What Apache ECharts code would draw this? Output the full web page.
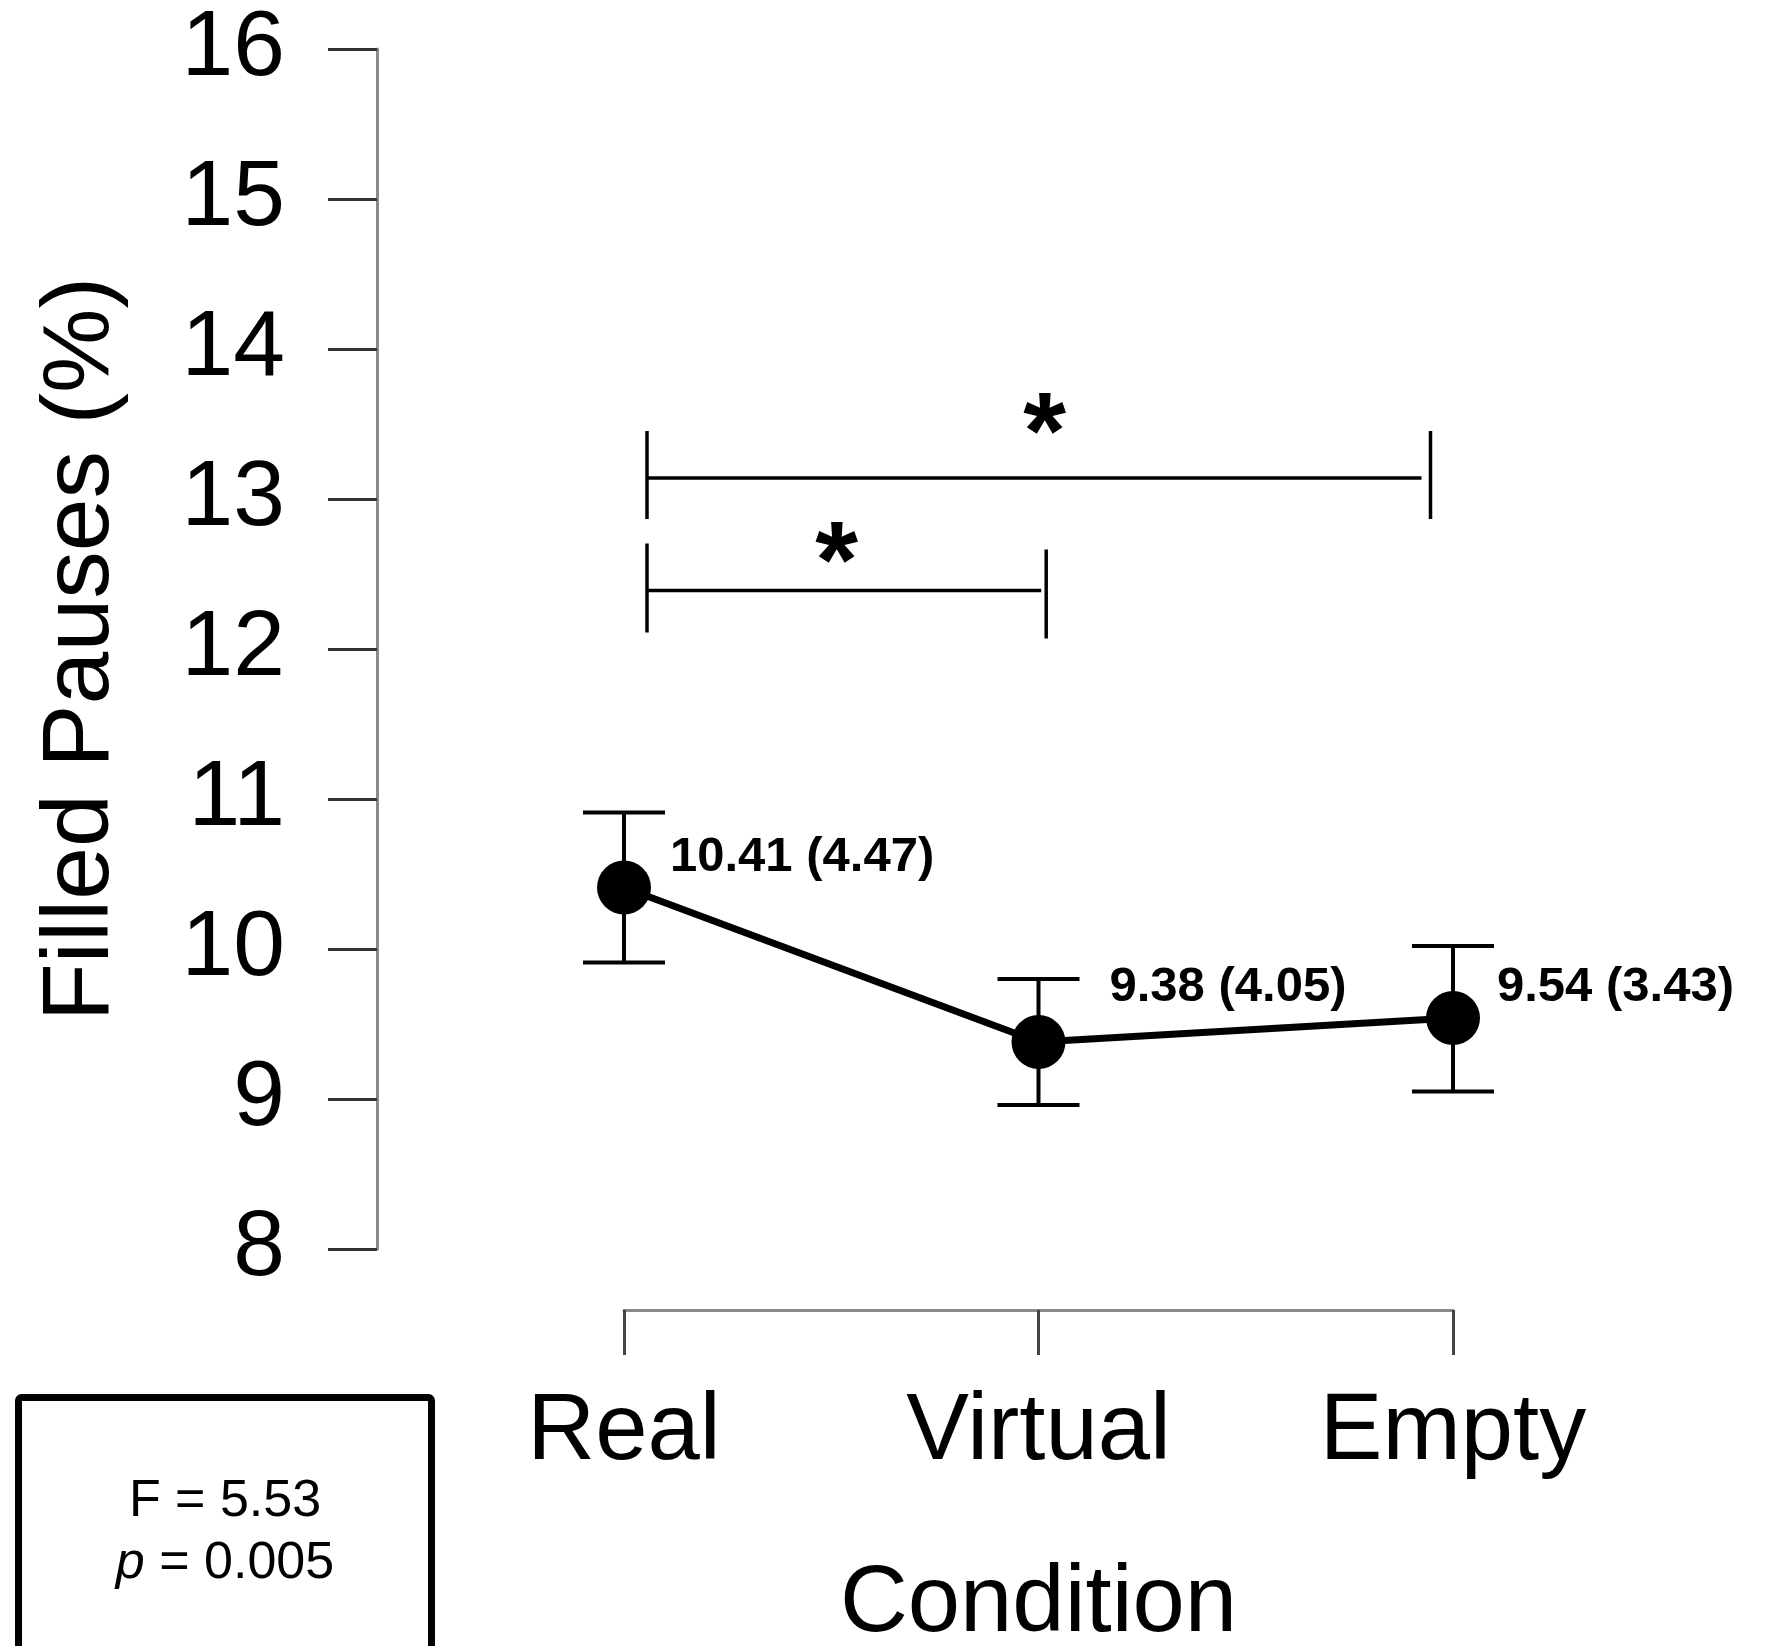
<!DOCTYPE html>
<html lang="en" style="height: 100%">
<head>
<meta charset="utf-8">
<title>Filled Pauses by Condition</title>
</head>
<body style="height: 100%; margin: 0; background: #fff">
<div id="container" style="width: 1775px; height: 1646px"></div>

<script type="text/javascript" src="https://cdn.jsdelivr.net/npm/echarts@6/dist/echarts.min.js"></script>

<script type="text/javascript">

// ---- data ----
var categories = ['Real', 'Virtual', 'Empty'];
var means = [10.41, 9.38, 9.54];
var sds = [4.47, 4.05, 3.43];
var errLow = [9.91, 8.96, 9.05];
var errHigh = [10.91, 9.80, 10.02];
var yMin = 8, yMax = 16, yStep = 1;
var comparisons = [['Real', 'Empty'], ['Real', 'Virtual']];
var compLevels = [13.14, 12.39];
var statF = '5.53';
var statP = '0.005';

// label placement next to each point (px: right of marker, up/down)
var labelShift = [[19, -30], [44, -55], [17, -31]];

var font = "'Liberation Sans', Arial, sans-serif";
var boldFont = "'Liberation Sans Narrow', 'Liberation Sans', sans-serif";

var dom = document.getElementById('container');
var myChart = echarts.init(dom, null, { renderer: 'canvas' });

var option = {
    animation: false,
    backgroundColor: '#fff',
    grid: { left: 624, right: 322, top: 49, bottom: 397, outerBoundsMode: 'none', containLabel: false },
    xAxis: {
        type: 'category',
        data: categories,
        boundaryGap: false,
        offset: 61,
        axisLine: { lineStyle: { color: '#8a8a8a', width: 3 } },
        axisTick: { length: 45, lineStyle: { color: '#444', width: 3 } },
        axisLabel: { margin: 76, fontSize: 94, fontFamily: font, color: '#000' },
        name: 'Condition',
        nameLocation: 'middle',
        nameGap: 248,
        nameTextStyle: { fontSize: 94, fontFamily: font, color: '#000' },
        splitLine: { show: false }
    },
    yAxis: {
        type: 'value',
        min: yMin,
        max: yMax,
        interval: yStep,
        offset: 247,
        axisLine: { show: true, lineStyle: { color: '#8a8a8a', width: 3 } },
        axisTick: { show: true, length: 49, lineStyle: { color: '#333', width: 3 } },
        axisLabel: { margin: 92, fontSize: 93, fontFamily: font, color: '#000' },
        splitLine: { show: false },
        name: 'Filled Pauses (%)',
        nameLocation: 'middle',
        nameGap: 248,
        nameTextStyle: { fontSize: 95, fontFamily: font, color: '#000' }
    },
    series: [
        {
            type: 'custom',
            name: 'error',
            clip: false,
            z: 2,
            data: categories.map(function (c, i) { return [i, errLow[i], errHigh[i]]; }),
            renderItem: function (params, api) {
                var lo = api.coord([api.value(0), api.value(1)]);
                var hi = api.coord([api.value(0), api.value(2)]);
                var half = 41;
                var st = { stroke: '#000', lineWidth: 4 };
                return {
                    type: 'group',
                    children: [
                        { type: 'line', shape: { x1: lo[0], y1: lo[1], x2: hi[0], y2: hi[1] }, style: st },
                        { type: 'line', shape: { x1: lo[0] - half, y1: lo[1], x2: lo[0] + half, y2: lo[1] }, style: st },
                        { type: 'line', shape: { x1: hi[0] - half, y1: hi[1], x2: hi[0] + half, y2: hi[1] }, style: st }
                    ]
                };
            }
        },
        {
            type: 'line',
            name: 'mean',
            z: 3,
            clip: false,
            symbol: 'circle',
            symbolSize: 54,
            lineStyle: { color: '#000', width: 7 },
            itemStyle: { color: '#000' },
            label: {
                show: true,
                position: 'right',
                distance: 0,
                fontSize: 49,
                fontWeight: 'bold',
                fontFamily: boldFont,
                color: '#000',
                formatter: function (p) {
                    return means[p.dataIndex].toFixed(2) + ' (' + sds[p.dataIndex].toFixed(2) + ')';
                }
            },
            data: means.map(function (m, i) {
                return { value: m, label: { offset: labelShift[i] } };
            })
        }
    ]
};

myChart.setOption(option);

// significance brackets and the stats box
function px(cat, val) {
    return myChart.convertToPixel({ gridIndex: 0 }, [categories.indexOf(cat), val]);
}
var bracketX = [[23, -22.5], [23, 7.7]];   // x nudges of the two end ticks
var bracketTicks = [[-47, 41, -47, 41], [-47, 42, -41, 48]];
var starPos = [[6, -40], [-10, -24]];
var lineEnd = [-9, -5];

var graphics = [];
comparisons.forEach(function (pair, k) {
    var a = px(pair[0], compLevels[k]);
    var b = px(pair[1], compLevels[k]);
    var x1 = a[0] + bracketX[k][0];
    var x2 = b[0] + bracketX[k][1];
    var y = a[1];
    var st = { stroke: '#000', lineWidth: 3.5 };
    graphics.push({ type: 'line', shape: { x1: x1, y1: y, x2: x2 + lineEnd[k], y2: y }, style: st });
    graphics.push({ type: 'line', shape: { x1: x1, y1: y + bracketTicks[k][0], x2: x1, y2: y + bracketTicks[k][1] }, style: st });
    graphics.push({ type: 'line', shape: { x1: x2, y1: y + bracketTicks[k][2], x2: x2, y2: y + bracketTicks[k][3] }, style: st });
    graphics.push({
        type: 'text',
        x: (x1 + x2) / 2 + starPos[k][0],
        y: y + starPos[k][1],
        style: {
            text: '*', font: "bold 110px 'Liberation Sans', sans-serif",
            fill: '#000', align: 'center', verticalAlign: 'middle'
        }
    });
});

graphics.push({
    type: 'rect',
    shape: { x: 18.5, y: 1397.5, width: 413, height: 400, r: 3 },
    style: { fill: 'none', stroke: '#000', lineWidth: 7 }
});
graphics.push({
    type: 'text',
    x: 225,
    y: 1533,
    style: {
        text: 'F = ' + statF + '\n{i|p} = ' + statP,
        align: 'center',
        verticalAlign: 'middle',
        fontSize: 52,
        fontFamily: font,
        lineHeight: 62,
        fill: '#000',
        rich: {
            i: { fontStyle: 'italic', fontSize: 52, fontFamily: font, fill: '#000' }
        }
    }
});

myChart.setOption({ graphic: graphics });

window.addEventListener('resize', myChart.resize);
</script>
</body>
</html>
